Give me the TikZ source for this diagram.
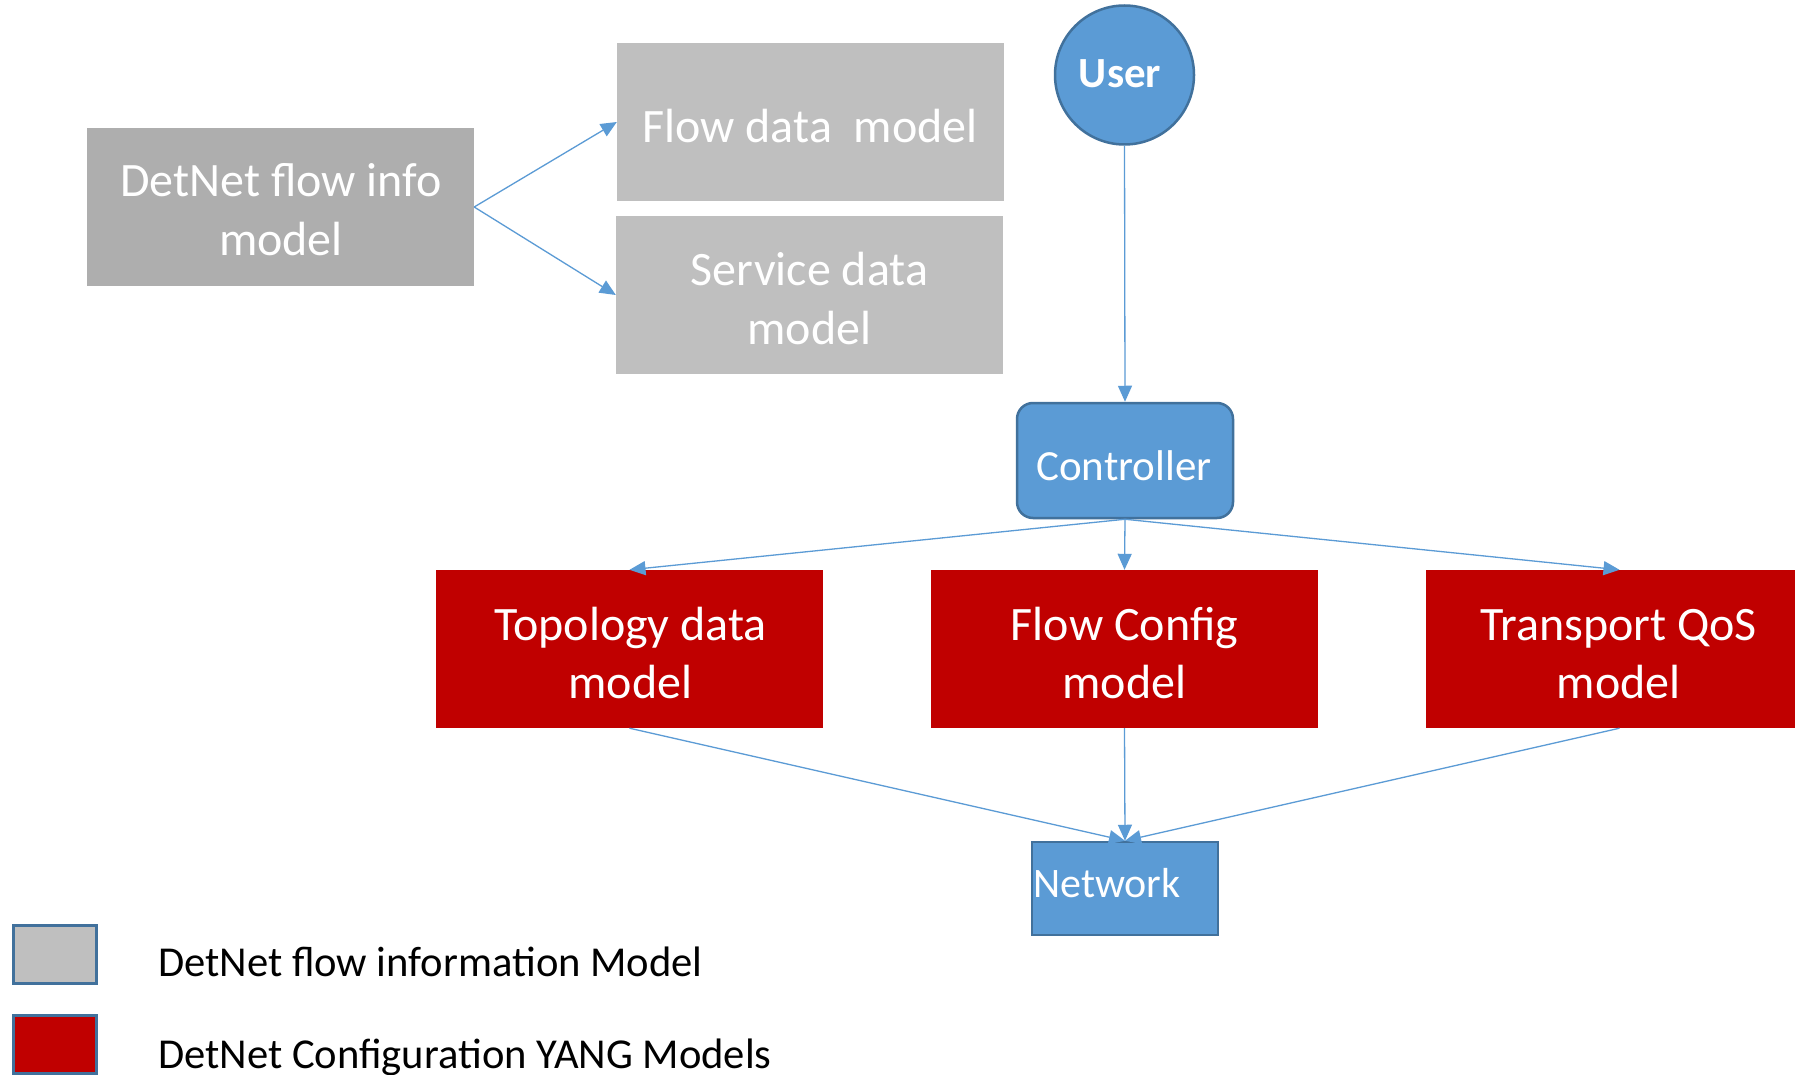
\documentclass[tikz,border=0pt]{standalone}
\usepackage{fontspec}
\setmainfont{Carlito}
\usetikzlibrary{arrows.meta}
\definecolor{infogray}{HTML}{BFBFBF}
\definecolor{infodark}{HTML}{AEAEAE}
\definecolor{yangred}{HTML}{C00000}
\definecolor{ctlblue}{HTML}{5B9BD5}
\definecolor{ctledge}{HTML}{41719C}
% centred lines whose reference point is the baseline of the first line
\newcommand\toplines[1]{\begin{tabular}[t]{@{}c@{}}#1\end{tabular}}

\begin{document}
\begin{tikzpicture}[x=1pt,y=-1pt,
  box/.style={minimum width=387pt, minimum height=158pt, inner sep=0pt},
  infobox/.style={box, fill=infogray},
  yangbox/.style={box, fill=yangred},
  boxtext/.style={anchor=base, inner sep=0pt, text=white, font=\fontsize{48}{59}\selectfont},
  actor/.style={fill=ctlblue, draw=ctledge, line width=2.5pt, inner sep=0pt},
  actortext/.style={anchor=base, inner sep=0pt, text=white, font=\fontsize{43}{50}\selectfont},
  link/.style={draw=ctlblue, line width=1.3pt, -{Triangle[length=16pt,width=14pt]}},
  legendbox/.style={draw=ctledge, line width=3pt, minimum width=83pt, minimum height=58pt, inner sep=0pt},
  legendtext/.style={anchor=base west, inner sep=0pt, font=\fontsize{42.6}{50}\selectfont}
]
\clip (0,0) rectangle (1795,1075);
\fill[white] (0,0) rectangle (1795,1075);

% information models
\node[infobox, fill=infodark] (info) at (280.5,207) {};
\node[infobox] (flowdata) at (810.5,122) {};
\node[infobox] (service) at (809.5,295) {};
\node[boxtext] (info-t) at (281,197) {\toplines{DetNet flow info\\model}};
\node[boxtext] (flowdata-t) at (810,142.5) {Flow data\ \ model};
\node[boxtext] (service-t) at (809.5,285) {\toplines{Service data\\model}};

% user and controller
\node[actor, circle, minimum size=139pt] (user) at (1124.5,75) {};
\node[actor, rounded corners=16pt, minimum width=216pt, minimum height=115pt] (ctl) at (1125,460.5) {};
\node[actortext, font=\fontsize{43}{50}\selectfont\bfseries] (user-t) at (1120,87.5) {User};
\node[actortext] (ctl-t) at (1124,480) {Controller};

% configuration YANG models
\node[yangbox] (topo) at (629.5,649) {};
\node[yangbox] (flowcfg) at (1124.5,649) {};
\node[yangbox] (qos) at (1619.5,649) {};
\node[boxtext, font=\fontsize{48}{58.5}\selectfont] (topo-t) at (630.5,640) {\toplines{Topology data\\model}};
\node[boxtext, font=\fontsize{48}{58.5}\selectfont] (flowcfg-t) at (1124.5,640) {\toplines{Flow Config\\model}};
\node[boxtext, font=\fontsize{48}{58.5}\selectfont] (qos-t) at (1618.6,640) {\toplines{Transport QoS\\model}};

% network
\node[actor, rectangle, minimum width=186pt, minimum height=93pt] (net) at (1125,888.5) {};
\node[actortext, anchor=base west, font=\fontsize{42}{50}\selectfont] (net-t) at (1033,897) {Network};

% connectors
\draw[link] (info.east) -- (flowdata.west);
\draw[link] (info.east) -- (service.west);
\draw[link] (user.south) -- (ctl.north);
\draw[link] (ctl.south) -- (topo.north);
\draw[link] (ctl.south) -- (flowcfg.north);
\draw[link] (ctl.south) -- (qos.north);
\draw[link] (topo.south) -- (net.north);
\draw[link] (flowcfg.south) -- (net.north);
\draw[link] (qos.south) -- (net.north);

% legend
\node[legendbox, fill=infogray] (leggray) at (54.5,954) {};
\node[legendbox, fill=yangred] (legred) at (55,1044) {};
\node[legendtext] (leggray-t) at (158,976) {DetNet flow information Model};
\node[legendtext] (legred-t) at (158,1068) {DetNet Configuration YANG Models};
\end{tikzpicture}
\end{document}
